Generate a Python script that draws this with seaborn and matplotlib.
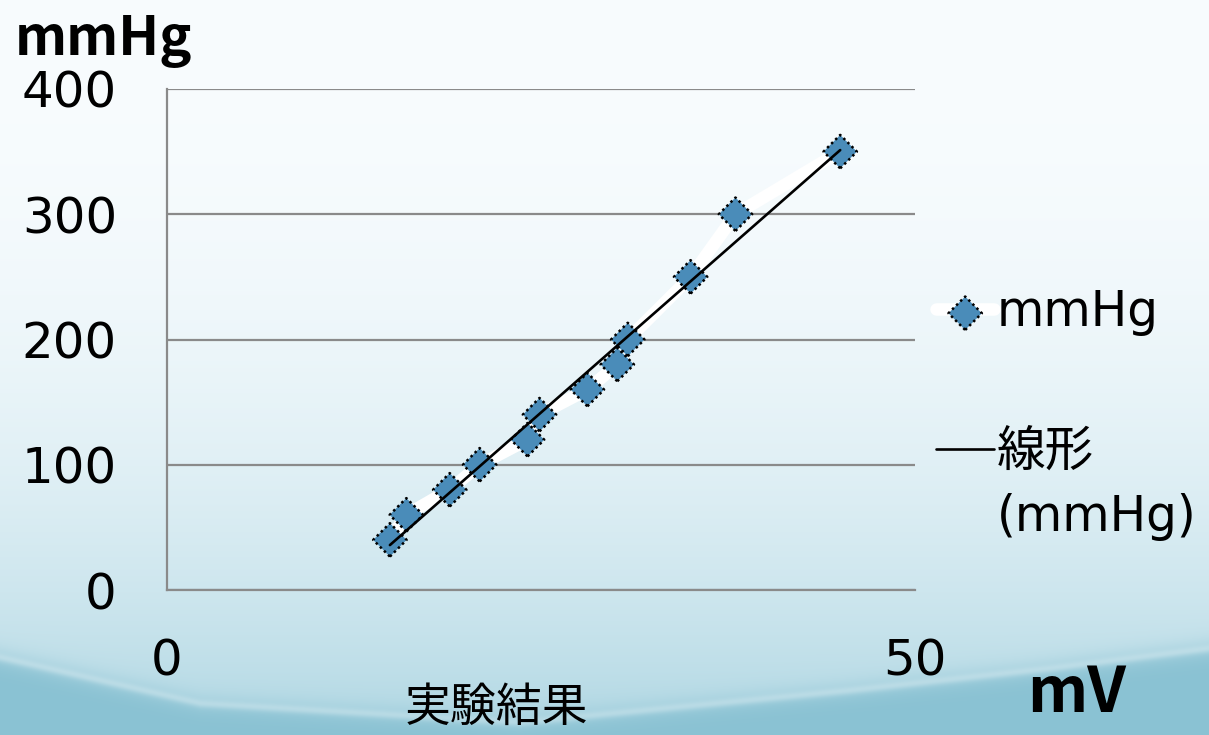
import numpy as np
import matplotlib
matplotlib.use('Agg')
import matplotlib.pyplot as plt
import seaborn as sns
from matplotlib.lines import Line2D
from matplotlib.legend_handler import HandlerTuple

# ---- data ----
mv = [14.9, 16.0, 18.9, 20.9, 24.1, 24.9, 28.1, 30.1, 30.8, 35.0, 38.0, 45.0]
mmhg = [40, 60, 80, 100, 120, 140, 160, 180, 200, 250, 300, 350]
x_ticks = [0, 50]
y_ticks = [0, 100, 200, 300, 400]
series_label = 'mmHg'
trend_labels = ['線形', '(mmHg)']
x_unit = 'mV'
y_unit = 'mmHg'
caption = '実験結果'

sns.set_theme(style='white')
plt.rcParams['font.family'] = ['DejaVu Sans', 'Noto Sans CJK JP']
plt.rcParams['text.color'] = 'black'

W, H = 1209, 735
fig = plt.figure(figsize=(W / 100, H / 100), dpi=100)

# ---- background gradient (decoration) ----
bg = fig.add_axes([0, 0, 1, 1], zorder=-10)
yy, xx = np.mgrid[0:H, 0:W].astype(float)
t = yy / H
top = np.array([248, 252, 254]) / 255
low = np.array([176, 215, 227]) / 255
f = t ** 2.4
img = top * (1 - f[..., None]) + low * f[..., None]
arc_x = [0, 200, 520, 850, 1050, 1209]
arc_y = [657, 703, 722, 690, 668, 648]
arc = np.interp(xx, arc_x, arc_y)
d = yy - arc
below = 1 / (1 + np.exp(-d / 6))
dark = np.array([138, 194, 211]) / 255
img = img * (1 - below[..., None]) + dark * below[..., None]
band = np.exp(-(d / 4) ** 2) * 0.25
img = img * (1 - band[..., None]) + band[..., None]
bg.imshow(img, aspect='auto', extent=[0, 1, 0, 1], origin='upper')
bg.axis('off')

# ---- main axes ----
ax = fig.add_axes([167 / W, 1 - 590 / H, 748 / W, 501 / H])
ax.set_facecolor('none')

sns.lineplot(x=mv, y=mmhg, sort=False, estimator=None, errorbar=None,
             color='white', linewidth=9, ax=ax, zorder=3,
             solid_capstyle='round', solid_joinstyle='round')
wline = ax.lines[-1]
sns.scatterplot(x=mv, y=mmhg, marker='D', s=290, color='#4a8cb9',
                edgecolor='black', linewidth=1.8, linestyle=(0, (1, 1.3)),
                ax=ax, zorder=4)
scat = ax.collections[-1]
sns.regplot(x=mv, y=mmhg, scatter=False, ci=None, color='black',
            line_kws=dict(linewidth=1.9, zorder=5), ax=ax)
trend = ax.lines[-1]

ax.set_xlim(0, 50)
ax.set_ylim(0, 400)
ax.set_xticks(x_ticks)
ax.set_yticks(y_ticks)
ax.set_axisbelow(True)
ax.yaxis.grid(True, color='#8a8a8a', linewidth=1.6)
ax.xaxis.grid(False)
for s in ['top', 'right']:
    ax.spines[s].set_visible(False)
for s in ['left', 'bottom']:
    ax.spines[s].set_color('#8a8a8a')
    ax.spines[s].set_linewidth(1.6)
ax.tick_params(axis='both', direction='out', length=12, width=1.6,
               color='#8a8a8a', labelsize=36, labelcolor='black')
ax.tick_params(axis='y', pad=24)
ax.tick_params(axis='x', pad=22)
ax.set_xlabel('')
ax.set_ylabel('')

# ---- legends ----
leg1 = ax.legend(handles=[(wline, scat)], labels=[series_label],
                 loc='center left', bbox_to_anchor=(936 / W, 1 - 312 / H),
                 bbox_transform=fig.transFigure, frameon=False, fontsize=35,
                 handlelength=1.2, handletextpad=0.05, borderpad=0,
                 borderaxespad=0, labelcolor='black',
                 handler_map={tuple: HandlerTuple(ndivide=1)})
ax.add_artist(leg1)
blank = Line2D([], [], color='none')
leg2 = ax.legend(handles=[trend, blank], labels=trend_labels,
                 loc='upper left', bbox_to_anchor=(936 / W, 1 - 428 / H),
                 bbox_transform=fig.transFigure, frameon=False, fontsize=35,
                 handlelength=1.2, handletextpad=0.05, borderpad=0,
                 borderaxespad=0, labelspacing=0.35, labelcolor='black')

# ---- texts ----
fig.text(15 / W, 1 - 55 / H, y_unit, fontsize=39, fontweight='bold',
         family='Noto Sans CJK JP', ha='left', va='baseline', color='black')
fig.text(1027 / W, 1 - 712 / H, x_unit, fontsize=45, fontweight='bold',
         family='Noto Sans CJK JP', ha='left', va='baseline', color='black')
fig.text(496 / W, 1 - 721 / H, caption, fontsize=33,
         family='Noto Sans CJK JP', ha='center', va='baseline', color='black')

fig.savefig('out.png', dpi=100)
